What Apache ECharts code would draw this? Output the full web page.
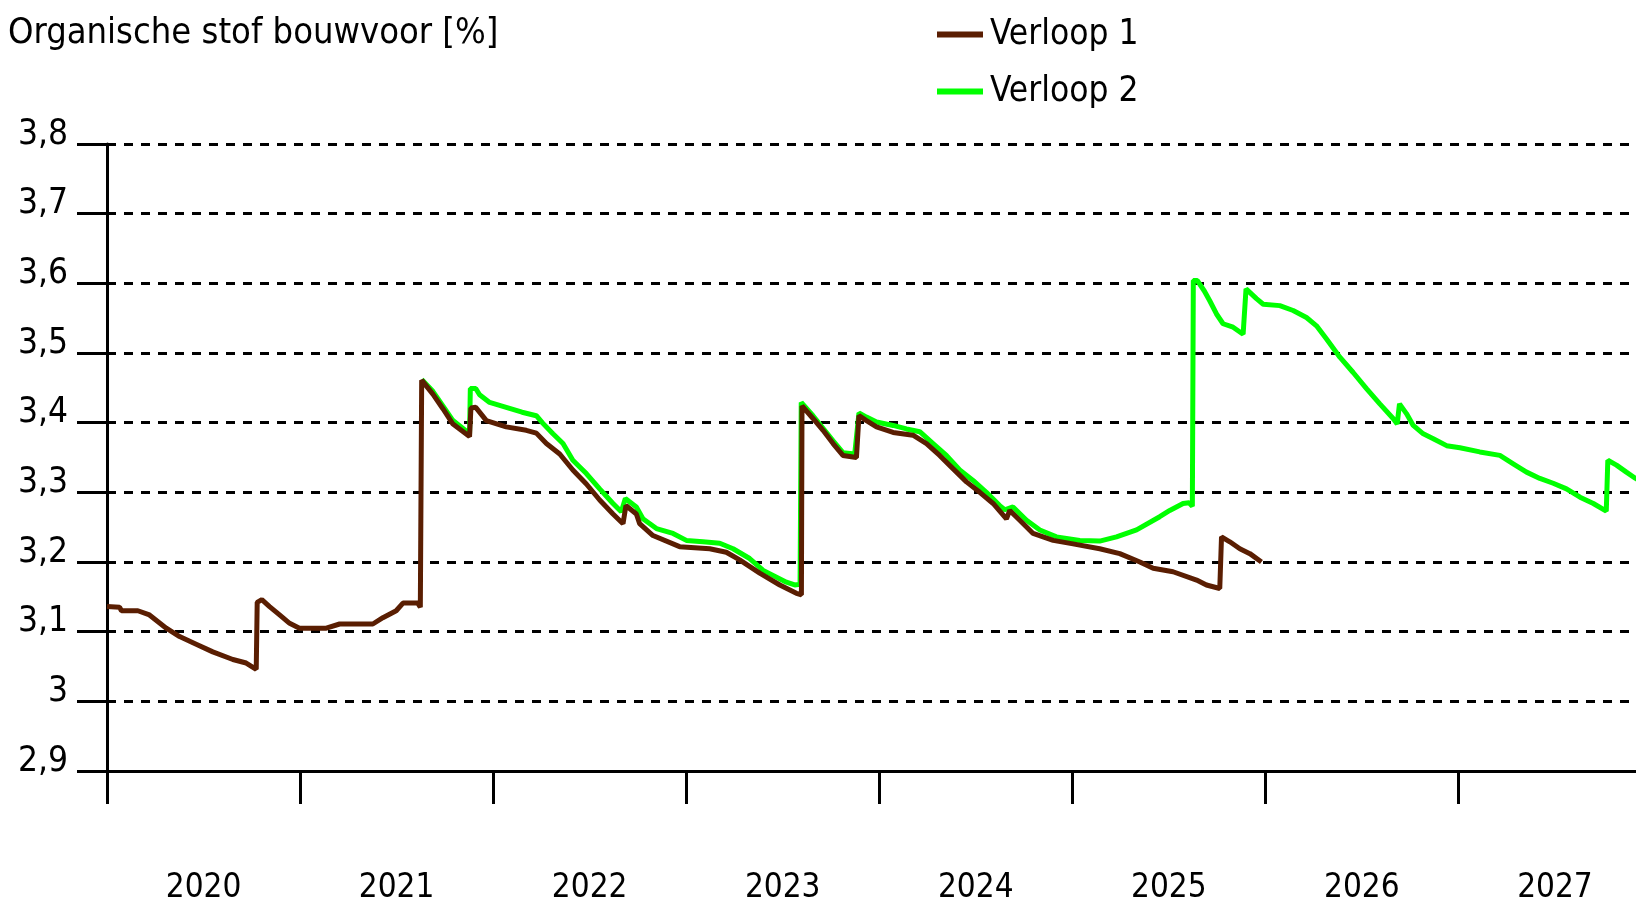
<!DOCTYPE html>
<html>
<head>
<meta charset="utf-8">
<title>Organische stof bouwvoor</title>
<script src="https://cdn.jsdelivr.net/npm/echarts@6/dist/echarts.min.js"></script>
<style>
html, body { margin:0; padding:0; background:#fff; }
#main { width:1636px; height:906px; }
</style>
</head>
<body>
<div id="main"></div>
<script>
var font_name = '"DejaVu Sans Condensed", "Liberation Sans Narrow", "Liberation Sans", sans-serif';

var series_names = ['Verloop 1', 'Verloop 2'];
var series_colors = ['#5a1e02', '#00ff00'];

// jaartallen (midden van elk jaar) en tickposities op de x-as
var year_ticks = [2020, 2021, 2022, 2023, 2024, 2025, 2026, 2027];
var year_label_pos = [2020.5, 2021.5, 2022.5, 2023.5, 2024.5, 2025.5, 2026.5, 2027.5];

// Verloop 1
var t_verloop1 = [
	2020.000, 2020.065, 2020.075, 2020.160, 2020.220, 2020.307, 2020.376, 2020.462, 2020.548, 2020.652,
	2020.721, 2020.773, 2020.778, 2020.802, 2020.842, 2020.894, 2020.946, 2020.997, 2021.136, 2021.205,
	2021.377, 2021.429, 2021.498, 2021.533, 2021.610, 2021.623, 2021.630, 2021.688, 2021.740, 2021.792,
	2021.878, 2021.885, 2021.910, 2021.965, 2022.068, 2022.172, 2022.224, 2022.276, 2022.345, 2022.413,
	2022.483, 2022.552, 2022.621, 2022.673, 2022.688, 2022.742, 2022.759, 2022.828, 2022.966, 2023.122,
	2023.208, 2023.277, 2023.381, 2023.485, 2023.571, 2023.597, 2023.600, 2023.657, 2023.709, 2023.761,
	2023.812, 2023.882, 2023.895, 2023.934, 2023.986, 2024.072, 2024.175, 2024.245, 2024.313, 2024.382,
	2024.452, 2024.521, 2024.590, 2024.659, 2024.676, 2024.728, 2024.797, 2024.901, 2025.004, 2025.142,
	2025.246, 2025.350, 2025.419, 2025.522, 2025.644, 2025.695, 2025.764, 2025.773, 2025.816, 2025.868,
	2025.920, 2025.980
];
var v_verloop1 = [
	3.136, 3.135, 3.130, 3.130, 3.124, 3.105, 3.093, 3.082, 3.071, 3.060,
	3.055, 3.046, 3.142, 3.146, 3.136, 3.124, 3.112, 3.105, 3.105, 3.111,
	3.111, 3.120, 3.130, 3.141, 3.141, 3.135, 3.461, 3.441, 3.420, 3.398,
	3.380, 3.421, 3.422, 3.403, 3.394, 3.389, 3.385, 3.370, 3.355, 3.332,
	3.312, 3.289, 3.269, 3.255, 3.281, 3.269, 3.255, 3.238, 3.222, 3.219,
	3.214, 3.203, 3.184, 3.167, 3.155, 3.153, 3.424, 3.406, 3.389, 3.370,
	3.353, 3.350, 3.410, 3.403, 3.394, 3.386, 3.382, 3.370, 3.353, 3.334,
	3.315, 3.300, 3.284, 3.262, 3.274, 3.260, 3.241, 3.231, 3.226, 3.219,
	3.212, 3.200, 3.191, 3.186, 3.174, 3.167, 3.162, 3.236, 3.229, 3.219,
	3.212, 3.200
];

// Verloop 2
var t_verloop2 = [
	2021.630, 2021.688, 2021.740, 2021.792, 2021.878, 2021.882, 2021.910, 2021.930, 2021.982, 2022.068,
	2022.150, 2022.224, 2022.258, 2022.310, 2022.362, 2022.413, 2022.483, 2022.552, 2022.621, 2022.664,
	2022.685, 2022.742, 2022.776, 2022.846, 2022.932, 2023.001, 2023.087, 2023.174, 2023.243, 2023.329,
	2023.399, 2023.519, 2023.562, 2023.590, 2023.596, 2023.657, 2023.709, 2023.761, 2023.812, 2023.873,
	2023.895, 2023.934, 2023.986, 2024.072, 2024.141, 2024.210, 2024.279, 2024.348, 2024.417, 2024.486,
	2024.555, 2024.624, 2024.650, 2024.693, 2024.763, 2024.832, 2024.918, 2025.039, 2025.142, 2025.229,
	2025.333, 2025.453, 2025.505, 2025.574, 2025.605, 2025.622, 2025.627, 2025.648, 2025.684, 2025.712,
	2025.747, 2025.781, 2025.833, 2025.885, 2025.900, 2025.954, 2025.989, 2026.075, 2026.144, 2026.213,
	2026.265, 2026.317, 2026.386, 2026.455, 2026.524, 2026.593, 2026.662, 2026.683, 2026.695, 2026.731,
	2026.766, 2026.818, 2026.870, 2026.939, 2027.008, 2027.111, 2027.215, 2027.284, 2027.353, 2027.422,
	2027.491, 2027.560, 2027.630, 2027.699, 2027.766, 2027.774, 2027.819, 2027.870, 2027.918, 2027.960
];
var v_verloop2 = [
	3.462, 3.445, 3.424, 3.403, 3.384, 3.449, 3.449, 3.440, 3.429, 3.422,
	3.415, 3.410, 3.399, 3.384, 3.370, 3.346, 3.327, 3.305, 3.284, 3.272,
	3.291, 3.279, 3.262, 3.248, 3.241, 3.231, 3.229, 3.227, 3.219, 3.205,
	3.188, 3.171, 3.167, 3.168, 3.429, 3.410, 3.392, 3.374, 3.357, 3.355,
	3.414, 3.408, 3.401, 3.396, 3.391, 3.387, 3.370, 3.353, 3.332, 3.317,
	3.300, 3.281, 3.275, 3.279, 3.260, 3.246, 3.236, 3.231, 3.230, 3.236,
	3.246, 3.265, 3.274, 3.284, 3.285, 3.280, 3.604, 3.604, 3.589, 3.575,
	3.556, 3.542, 3.537, 3.527, 3.592, 3.578, 3.570, 3.568, 3.561, 3.551,
	3.539, 3.520, 3.494, 3.472, 3.449, 3.427, 3.406, 3.398, 3.427, 3.413,
	3.396, 3.384, 3.377, 3.367, 3.364, 3.358, 3.353, 3.341, 3.329, 3.320,
	3.313, 3.305, 3.293, 3.284, 3.273, 3.346, 3.339, 3.329, 3.320, 3.314
];

function make_pairs(t_list, v_list){
	var pairs = [];
	for(var i = 0; i < t_list.length; i++){
		pairs.push([t_list[i], v_list[i]]);
	}
	return pairs;
}

var myChart = echarts.init(document.getElementById('main'), null, {renderer:'canvas'});
myChart.setOption({
	animation : false,
	backgroundColor : '#ffffff',
	title : {
		text : 'Organische stof bouwvoor [%]',
		left : 3,
		top : 11,
		textStyle : {fontFamily:font_name, fontSize:36, fontWeight:'normal', color:'#000'}
	},
	legend : {
		data : series_names,
		orient : 'vertical',
		left : 932,
		top : 12,
		itemWidth : 46,
		itemHeight : 6,
		itemGap : 22,
		icon : 'rect',
		textStyle : {fontFamily:font_name, fontSize:35, color:'#000', lineHeight:35, padding:[0,0,0,2]}
	},
	grid : {
		left : 107,
		right : 0,
		top : 144,
		bottom : 135
	},
	xAxis : [{
		type : 'value',
		min : 2020,
		max : 2027.92,
		axisLine : {show:true, lineStyle:{color:'#000', width:3}},
		axisTick : {show:true, length:33, customValues:year_ticks, lineStyle:{color:'#000', width:3}},
		axisLabel : {
			show : true,
			customValues : year_label_pos,
			margin : 101,
			fontFamily : font_name,
			fontSize : 33,
			color : '#000',
			formatter : function(v){ return String(Math.floor(v)); }
		},
		splitLine : {show:false}
	}],
	yAxis : [{
		type : 'value',
		min : 2.9,
		max : 3.8,
		interval : 0.1,
		axisLine : {show:true, lineStyle:{color:'#000', width:3}},
		axisTick : {show:true, length:30, lineStyle:{color:'#000', width:3}},
		axisLabel : {
			margin : 39,
			fontFamily : font_name,
			fontSize : 35,
			lineHeight : 19,
			verticalAlign : 'bottom',
			color : '#000',
			formatter : function(v){ return String(+v.toFixed(1)).replace('.', ','); }
		},
		splitLine : {show:true, lineStyle:{color:'#000', width:3, type:[9,8]}}
	}],
	series : [
	{
		name : series_names[1],
		type : 'line',
		data : make_pairs(t_verloop2, v_verloop2),
		showSymbol : false,
		symbol : 'none',
		z : 2,
		lineStyle : {color:series_colors[1], width:5},
		itemStyle : {color:series_colors[1]}
	},
	{
		name : series_names[0],
		type : 'line',
		data : make_pairs(t_verloop1, v_verloop1),
		showSymbol : false,
		symbol : 'none',
		z : 3,
		lineStyle : {color:series_colors[0], width:5},
		itemStyle : {color:series_colors[0]}
	}
	]
});
</script>
</body>
</html>
